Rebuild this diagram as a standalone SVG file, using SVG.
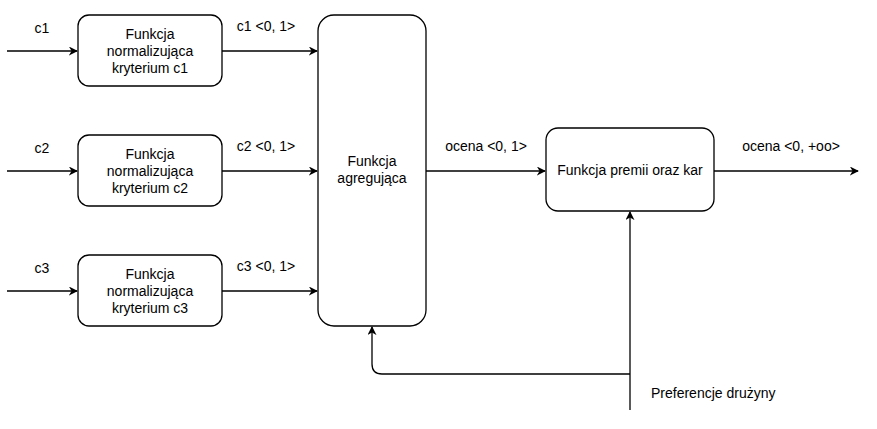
<svg xmlns="http://www.w3.org/2000/svg" width="877" height="429" viewBox="0 0 877 429">
<defs>
<marker id="arr" viewBox="0 0 10 10" refX="9" refY="5" markerWidth="9" markerHeight="9" markerUnits="userSpaceOnUse" orient="auto">
<path d="M0,0 L10,5 L0,10 L3,5 Z" fill="#000"/>
</marker>
<style>
.box{fill:#fff;stroke:#000;stroke-width:1.3}
.t{font-family:"Liberation Sans",Arial,sans-serif;font-size:14px;fill:#000}
.c{text-anchor:middle}
.ln{fill:none;stroke:#000;stroke-width:1.3}
</style>
</defs>
<rect width="877" height="429" fill="#fff"/>
<g id="connectors">
<path class="ln" d="M7,51 H77" marker-end="url(#arr)"/>
<path class="ln" d="M7,171 H77" marker-end="url(#arr)"/>
<path class="ln" d="M7,291 H77" marker-end="url(#arr)"/>
<path class="ln" d="M222,51 H317" marker-end="url(#arr)"/>
<path class="ln" d="M222,171 H317" marker-end="url(#arr)"/>
<path class="ln" d="M222,291 H317" marker-end="url(#arr)"/>
<path class="ln" d="M426,171 H545" marker-end="url(#arr)"/>
<path class="ln" d="M714,171 H858" marker-end="url(#arr)"/>
<path class="ln" d="M630,410 V212" marker-end="url(#arr)"/>
<path class="ln" d="M630,374 H382 Q372,374 372,364 V327" marker-end="url(#arr)"/>
<text class="t c" x="42" y="33">c1</text>
<text class="t c" x="42" y="153">c2</text>
<text class="t c" x="42" y="273">c3</text>
<text class="t c" x="266" y="31">c1 &lt;0, 1&gt;</text>
<text class="t c" x="266" y="151">c2 &lt;0, 1&gt;</text>
<text class="t c" x="266" y="271">c3 &lt;0, 1&gt;</text>
<text class="t c" x="486" y="151">ocena &lt;0, 1&gt;</text>
<text class="t c" x="791" y="151">ocena &lt;0, +oo&gt;</text>
<text class="t" x="651" y="398">Preferencje drużyny</text>
</g>
<g id="norm1">
<rect class="box" x="78" y="15" width="144" height="71" rx="11"/>
<text class="t c" x="150" y="39">Funkcja</text>
<text class="t c" x="150" y="56">normalizująca</text>
<text class="t c" x="150" y="73">kryterium c1</text>
</g>
<g id="norm2">
<rect class="box" x="78" y="135" width="144" height="71" rx="11"/>
<text class="t c" x="150" y="159">Funkcja</text>
<text class="t c" x="150" y="176">normalizująca</text>
<text class="t c" x="150" y="193">kryterium c2</text>
</g>
<g id="norm3">
<rect class="box" x="78" y="255" width="144" height="71" rx="11"/>
<text class="t c" x="150" y="279">Funkcja</text>
<text class="t c" x="150" y="296">normalizująca</text>
<text class="t c" x="150" y="313">kryterium c3</text>
</g>
<g id="agg">
<rect class="box" x="318" y="15" width="108" height="311" rx="16"/>
<text class="t c" x="372" y="166">Funkcja</text>
<text class="t c" x="372" y="183">agregująca</text>
</g>
<g id="premii">
<rect class="box" x="546" y="128" width="168" height="83" rx="12"/>
<text class="t c" x="630" y="175">Funkcja premii oraz kar</text>
</g>
</svg>
